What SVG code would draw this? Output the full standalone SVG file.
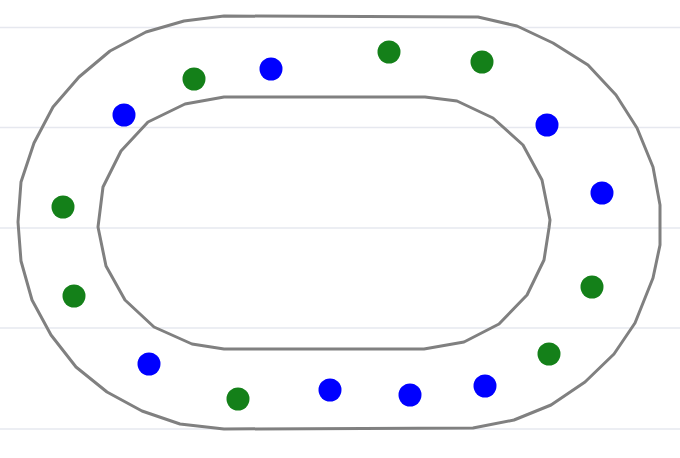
<svg xmlns="http://www.w3.org/2000/svg" width="680" height="458" viewBox="0 0 680 458">
<style>
.grid{stroke:#e6e8ef;stroke-width:1.5;fill:none}
.track{fill:none;stroke:#808080;stroke-width:3;stroke-linejoin:round}
.g{fill:#148019}
.b{fill:#0000ff}
</style>
<rect width="680" height="458" fill="#ffffff"/>
<g id="grid">
<line class="grid" x1="0" y1="27.5" x2="680" y2="27.5"/>
<line class="grid" x1="0" y1="127.5" x2="680" y2="127.5"/>
<line class="grid" x1="0" y1="228" x2="680" y2="228"/>
<line class="grid" x1="0" y1="328" x2="680" y2="328"/>
<line class="grid" x1="0" y1="429" x2="680" y2="429"/>
</g>
<g id="track">
<polygon class="track" points="224,16 478,17 517,26 553,43 588,65 616,95 637,128 653,167 660,205 660,245 653,278 635,323 614,354 585,382 551,405 514,420 473,428 224,429 180,424 142,411 107,392 76,367 51,335 32,300 21,261 18,222 21,182 34,143 53,107 79,77 110,51 146,32 184,21"/>
<polygon class="track" points="224,97 425,97 457,101 493,118 523,145 542,180 550,220 549,228 544,260 527,295 499,324 464,342 424,349 224,349 192,344 154,327 125,300 106,266 98,227 103,187 121,151 148,122 185,104"/>
</g>
<g id="dots">
<circle id="d1" class="b" cx="124" cy="115" r="11.5"/>
<circle id="d2" class="g" cx="194" cy="79" r="11.5"/>
<circle id="d3" class="b" cx="271" cy="69" r="11.5"/>
<circle id="d4" class="g" cx="389" cy="52" r="11.5"/>
<circle id="d5" class="g" cx="482" cy="62" r="11.5"/>
<circle id="d6" class="b" cx="547" cy="125" r="11.5"/>
<circle id="d7" class="b" cx="602" cy="193" r="11.5"/>
<circle id="d8" class="g" cx="592" cy="287" r="11.5"/>
<circle id="d9" class="g" cx="549" cy="354" r="11.5"/>
<circle id="d10" class="b" cx="485" cy="386" r="11.5"/>
<circle id="d11" class="b" cx="410" cy="395" r="11.5"/>
<circle id="d12" class="b" cx="330" cy="390" r="11.5"/>
<circle id="d13" class="g" cx="238" cy="399" r="11.5"/>
<circle id="d14" class="b" cx="149" cy="364" r="11.5"/>
<circle id="d15" class="g" cx="74" cy="296" r="11.5"/>
<circle id="d16" class="g" cx="63" cy="207" r="11.5"/>
</g>
</svg>
